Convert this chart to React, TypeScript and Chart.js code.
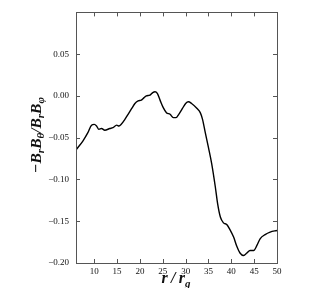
import React, { useEffect, useRef } from "react";
import { Chart, registerables } from "chart.js";

Chart.register(...registerables);

const rValues = [6, 7.5, 8.6, 9.4, 10, 10.5, 11, 11.6, 12.3, 13.4, 14.1, 14.9, 15.4, 15.9, 16.7, 17.4, 18.2, 18.9, 19.6, 20.3, 20.9, 21.4, 22.2, 22.8, 23.3, 23.8, 24.4, 25.1, 25.8, 26.6, 27.3, 27.9, 28.5, 29.3, 30.0, 30.6, 31.3, 32.5, 33.2, 33.7, 34.3, 35.0, 35.7, 36.5, 37.0, 37.6, 38.3, 39.0, 39.7, 40.5, 41.2, 41.9, 42.7, 43.4, 44.1, 44.9, 45.6, 46.3, 47.4, 48.5, 50];
const stressValues = [-0.0646, -0.054, -0.044, -0.035, -0.034, -0.036, -0.040, -0.039, -0.041, -0.039, -0.038, -0.035, -0.036, -0.034, -0.028, -0.022, -0.015, -0.009, -0.006, -0.005, -0.002, 0.0, 0.001, 0.004, 0.005, 0.003, -0.005, -0.014, -0.020, -0.022, -0.026, -0.026, -0.022, -0.015, -0.009, -0.007, -0.009, -0.015, -0.020, -0.028, -0.044, -0.062, -0.081, -0.109, -0.129, -0.145, -0.152, -0.154, -0.160, -0.169, -0.180, -0.188, -0.191, -0.188, -0.185, -0.185, -0.179, -0.171, -0.166, -0.163, -0.161];
const xTicks = [10, 15, 20, 25, 30, 35, 40, 45, 50];
const yTicks = [-0.2, -0.15, -0.1, -0.05, 0, 0.05, 0.1];
const yTickLabels = ["\u22120.20", "\u22120.15", "\u22120.10", "\u22120.05", "0.00", "0.05", ""];

const FONT = "'Liberation Serif', 'DejaVu Serif', serif";

type Seg = { t: string; sub?: boolean };

function drawSegs(ctx: CanvasRenderingContext2D, segs: Seg[], size: number) {
  const main = `bold italic ${size}px ${FONT}`;
  const sub = `bold italic ${Math.round(size * 0.7)}px ${FONT}`;
  let total = 0;
  for (const s of segs) {
    ctx.font = s.sub ? sub : main;
    total += ctx.measureText(s.t).width;
  }
  let x = -total / 2;
  for (const s of segs) {
    ctx.font = s.sub ? sub : main;
    ctx.fillText(s.t, x, s.sub ? size * 0.22 : 0);
    x += ctx.measureText(s.t).width;
  }
}

const framePlugin = {
  id: "frame",
  afterDraw(chart: any) {
    const { ctx, chartArea } = chart;
    const { left, right, top, bottom } = chartArea;
    const xs = chart.scales.x;
    const ys = chart.scales.y;
    ctx.save();
    ctx.strokeStyle = "#555";
    ctx.lineWidth = 1;
    ctx.strokeRect(Math.round(left) + 0.5, Math.round(top) + 0.5, Math.round(right - left), Math.round(bottom - top));
    const L = 4;
    ctx.beginPath();
    for (const v of xTicks) {
      const p = Math.round(xs.getPixelForValue(v)) + 0.5;
      ctx.moveTo(p, bottom);
      ctx.lineTo(p, bottom - L);
      ctx.moveTo(p, top);
      ctx.lineTo(p, top + L);
    }
    for (const v of yTicks) {
      const p = Math.round(ys.getPixelForValue(v)) + 0.5;
      ctx.moveTo(left, p);
      ctx.lineTo(left + L, p);
      ctx.moveTo(right, p);
      ctx.lineTo(right - L, p);
    }
    ctx.stroke();

    ctx.fillStyle = "#111";
    ctx.textBaseline = "alphabetic";
    // x title
    ctx.save();
    ctx.translate(176, 283);
    drawSegs(ctx, [{ t: "r" }, { t: "\u2009/\u2009" }, { t: "r" }, { t: "g", sub: true }], 16);
    ctx.restore();
    // y title
    ctx.save();
    ctx.translate(41, 135);
    ctx.rotate(-Math.PI / 2);
    drawSegs(
      ctx,
      [
        { t: "\u2212B" },
        { t: "r", sub: true },
        { t: "B" },
        { t: "\u03B8", sub: true },
        { t: "/B" },
        { t: "r", sub: true },
        { t: "B" },
        { t: "\u03C6", sub: true },
      ],
      15.5
    );
    ctx.restore();
    ctx.restore();
  },
};

export default function App() {
  const ref = useRef<HTMLCanvasElement>(null);
  useEffect(() => {
    if (!ref.current) return;
    const chart = new Chart(ref.current, {
      type: "line",
      data: {
        datasets: [
          {
            data: rValues.map((r, i) => ({ x: r, y: stressValues[i] })),
            borderColor: "#000",
            borderWidth: 1.4,
            pointRadius: 0,
            tension: 0.4,
            cubicInterpolationMode: "monotone",
            fill: false,
          },
        ],
      },
      options: {
        animation: false,
        responsive: false,
        maintainAspectRatio: false,
        layout: { padding: { left: 0, top: 10, right: 37, bottom: 0 } },
        plugins: { legend: { display: false }, tooltip: { enabled: false } },
        scales: {
          x: {
            type: "linear",
            min: 6,
            max: 50,
            grid: { display: false, drawTicks: false },
            border: { display: false },
            afterBuildTicks: (s: any) => {
              s.ticks = xTicks.map((v) => ({ value: v }));
            },
            afterFit: (s: any) => {
              s.height = 25;
            },
            ticks: {
              padding: 3,
              color: "#111",
              font: { family: FONT, size: 9 },
              maxRotation: 0,
              callback: (v: any) => String(v),
            },
          },
          y: {
            type: "linear",
            min: -0.2,
            max: 0.1,
            grid: { display: false, drawTicks: false },
            border: { display: false },
            afterBuildTicks: (s: any) => {
              s.ticks = yTicks.map((v) => ({ value: v }));
            },
            afterFit: (s: any) => {
              s.width = 76;
            },
            ticks: {
              padding: 7,
              color: "#111",
              font: { family: FONT, size: 9 },
              callback: (v: any) => {
                const i = yTicks.findIndex((t) => Math.abs(t - Number(v)) < 1e-9);
                return i >= 0 ? yTickLabels[i] : "";
              },
            },
          },
        },
      },
      plugins: [framePlugin],
    } as any);
    return () => chart.destroy();
  }, []);
  return (
    <div style={{ position: "fixed", left: 0, top: 0, width: 314, height: 288, background: "#fff" }}>
      <canvas ref={ref} width={314} height={288} style={{ width: 314, height: 288 }} />
    </div>
  );
}
